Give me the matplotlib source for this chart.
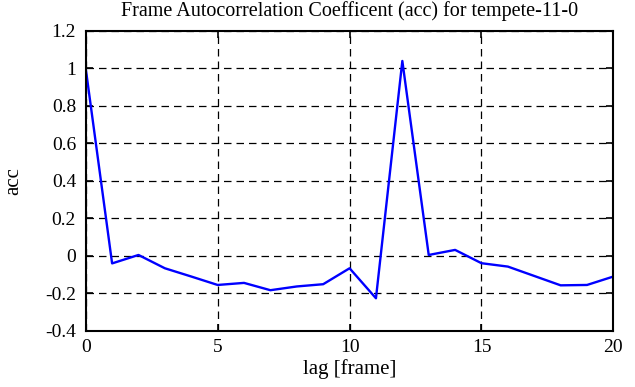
import numpy as np
import matplotlib
matplotlib.use("Agg")
import matplotlib.pyplot as plt

# lag values and autocorrelation
lags = list(range(21))
acc = [1.0, -0.04, 0.005, -0.066, -0.11, -0.155, -0.144, -0.183, -0.163, -0.151,
       -0.066, -0.226, 1.04, 0.005, 0.032, -0.039, -0.057, -0.107, -0.157, -0.155, -0.11]
xticks = [0, 5, 10, 15, 20]
yticks = [-0.4, -0.2, 0, 0.2, 0.4, 0.6, 0.8, 1, 1.2]
ytick_labels = ["-0.4", "-0.2", "0", "0.2", "0.4", "0.6", "0.8", "1", "1.2"]

plt.rcParams['font.family'] = ['Liberation Serif', 'DejaVu Serif']

fig = plt.figure(figsize=(6.35, 3.87), dpi=100)
ax = fig.add_axes([0.135, 0.145, 0.831, 0.775])

ax.plot(lags, acc, color=(0, 0, 1), linewidth=1.7)

ax.set_xlim(0, 20)
ax.set_ylim(-0.4, 1.2)
ax.set_xticks(xticks)
ax.set_yticks(yticks)
ax.set_yticklabels(ytick_labels)
ax.grid(True, color='black', linestyle=(0, (6, 4)), linewidth=0.9)
ax.tick_params(direction='in', top=True, right=True, length=5, width=1.2, labelsize=14)
ax.tick_params(axis='y', pad=7)
ax.tick_params(axis='x', pad=6)
for s in ax.spines.values():
    s.set_linewidth(1.5)

ax.set_xlabel("lag [frame]", fontsize=15, labelpad=2)
ax.set_ylabel("acc", fontsize=15, labelpad=16)
ax.set_title("Frame Autocorrelation Coefficent (acc) for tempete-11-0", fontsize=14.5, pad=11)

fig.savefig("out.png", dpi=100)
